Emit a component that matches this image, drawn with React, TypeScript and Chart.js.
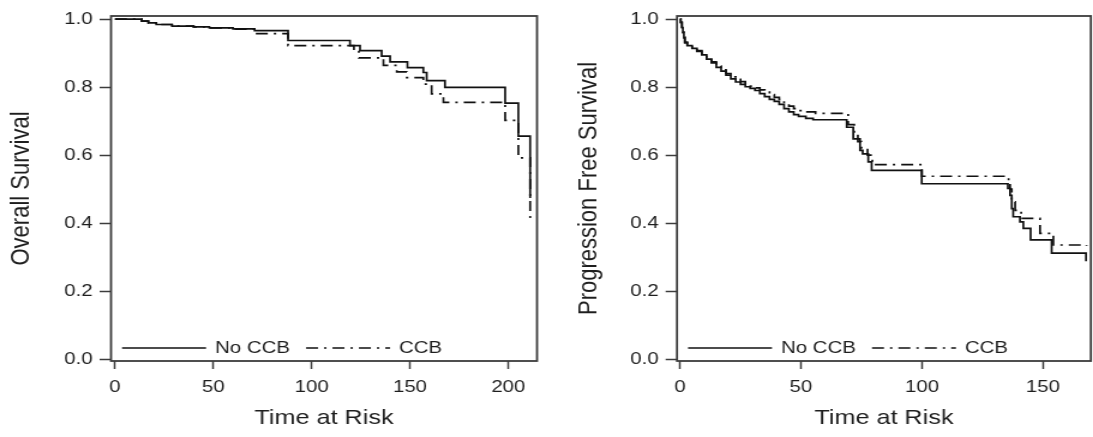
import React, { useEffect, useRef } from "react";
import { Chart, registerables } from "chart.js";

Chart.register(...registerables);

// ---------- data ----------
const seriesLabels = ["No CCB", "CCB"];

const yTickValues = [0, 0.2, 0.4, 0.6, 0.8, 1.0];
const osXTicks = [0, 50, 100, 150, 200];
const pfsXTicks = [0, 50, 100, 150];

// Overall survival (left panel)
const osTimeNoCCB = [0, 13.6, 17, 21, 29, 40, 48, 60, 71, 88, 119.5, 124.6, 135.6, 139.9, 148.7, 156.8, 158.5, 167.8, 198.4, 205.1, 211.1];
const osSurvNoCCB = [1.0, 0.994, 0.989, 0.984, 0.979, 0.977, 0.974, 0.971, 0.966, 0.937, 0.922, 0.907, 0.891, 0.874, 0.857, 0.843, 0.819, 0.799, 0.753, 0.656, 0.474];
const osTimeCCB = [0, 13.6, 17, 21, 29, 40, 48, 60, 71, 88, 121.5, 124, 136.5, 143.3, 148.4, 156.8, 161, 167, 198.4, 205.1, 211.1];
const osSurvCCB = [1.0, 0.994, 0.989, 0.984, 0.979, 0.977, 0.974, 0.970, 0.957, 0.922, 0.906, 0.886, 0.864, 0.845, 0.828, 0.809, 0.78, 0.755, 0.702, 0.592, 0.406];

// Progression free survival (right panel)
const pfsTimeNoCCB = [0, 0.3, 0.8, 1.2, 1.6, 2.0, 3, 5, 7, 9, 11, 13, 15, 17, 19, 21, 23, 25, 27, 29, 31, 33, 35, 37, 39, 41, 43, 45, 47, 49, 52, 55, 68.9, 71.6, 74.4, 75.5, 77.8, 79.2, 99.9, 135.5, 136.4, 137.1, 137.7, 140.5, 141.9, 144.9, 153.6, 167.8];
const pfsSurvNoCCB = [1.0, 0.99, 0.975, 0.96, 0.945, 0.93, 0.922, 0.914, 0.905, 0.895, 0.882, 0.871, 0.858, 0.847, 0.835, 0.824, 0.815, 0.808, 0.801, 0.796, 0.79, 0.781, 0.772, 0.764, 0.758, 0.749, 0.737, 0.727, 0.719, 0.714, 0.708, 0.704, 0.682, 0.648, 0.614, 0.604, 0.58, 0.555, 0.516, 0.502, 0.482, 0.443, 0.419, 0.404, 0.385, 0.351, 0.312, 0.288];
const pfsTimeCCB = [0, 0.3, 0.8, 1.2, 1.6, 2.0, 3, 5, 7, 9, 11, 13, 15, 17, 19, 21, 23, 25, 27, 29, 31, 33, 35, 37, 39, 41, 43, 45, 47, 49, 52, 56, 69.5, 72, 73.5, 75, 77.5, 79.5, 100, 135.8, 136.4, 137.1, 138.5, 141, 148.8, 154.3, 168];
const pfsSurvCCB = [1.0, 0.99, 0.976, 0.962, 0.947, 0.932, 0.925, 0.916, 0.907, 0.897, 0.885, 0.874, 0.862, 0.851, 0.84, 0.83, 0.823, 0.816, 0.81, 0.803, 0.798, 0.792, 0.785, 0.778, 0.77, 0.764, 0.752, 0.744, 0.737, 0.731, 0.727, 0.723, 0.69, 0.665, 0.64, 0.62, 0.6, 0.572, 0.538, 0.52, 0.5, 0.463, 0.438, 0.414, 0.37, 0.336, 0.333];

// ---------- styling ----------
const FONT = "'Liberation Sans', Arial, Helvetica, sans-serif";
const TEXT = "#1e1e1e";
const AXIS = "#3c3c3c";
const STRETCH = 1.2; // the reference is horizontally stretched

const framePlugin = {
  id: "frame",
  afterDatasetsDraw(chart: any) {
    const { ctx, chartArea: a } = chart;
    ctx.save();
    ctx.strokeStyle = AXIS;
    ctx.lineWidth = 1.8;
    ctx.strokeRect(a.left, a.top, a.right - a.left, a.bottom - a.top);
    ctx.restore();
  },
};

const insideLegendPlugin = {
  id: "insideLegend",
  afterDatasetsDraw(chart: any) {
    const { ctx, chartArea: a } = chart;
    const y = a.bottom - 13;
    let x = a.left + 9.2;
    ctx.save();
    ctx.font = `17px ${FONT}`;
    ctx.textBaseline = "middle";
    ctx.textAlign = "left";
    chart.data.datasets.forEach((ds: any) => {
      ctx.beginPath();
      ctx.setLineDash(ds.borderDash || []);
      ctx.strokeStyle = ds.borderColor;
      ctx.lineWidth = ds.borderWidth;
      ctx.moveTo(x, y);
      ctx.lineTo(x + 70, y);
      ctx.stroke();
      x += 70 + 7.5;
      ctx.setLineDash([]);
      ctx.fillStyle = TEXT;
      ctx.fillText(ds.label, x, y);
      x += ctx.measureText(ds.label).width + 13.5;
    });
    ctx.restore();
  },
};

type Panel = {
  canvasWidth: number;
  displayLeft: number;
  chartLeft: number;
  padRight: number;
  xMin: number;
  xMax: number;
  xTicks: number[];
  yTitle: string;
  yTitlePad: number;
  t0: number[];
  s0: number[];
  t1: number[];
  s1: number[];
};

const panels: Panel[] = [
  {
    canvasWidth: 455,
    displayLeft: 0,
    chartLeft: 92.5,
    padRight: 7.5,
    xMin: -2,
    xMax: 214.6,
    xTicks: osXTicks,
    yTitle: "Overall Survival",
    yTitlePad: 4.9,
    t0: osTimeNoCCB,
    s0: osSurvNoCCB,
    t1: osTimeCCB,
    s1: osSurvCCB,
  },
  {
    canvasWidth: 456,
    displayLeft: 546,
    chartLeft: 109.2,
    padRight: 1.8,
    xMin: -1.24,
    xMax: 169.8,
    xTicks: pfsXTicks,
    yTitle: "Progression Free Survival",
    yTitlePad: 22.8,
    t0: pfsTimeNoCCB,
    s0: pfsSurvNoCCB,
    t1: pfsTimeCCB,
    s1: pfsSurvCCB,
  },
];

function makeConfig(p: Panel): any {
  const toPts = (t: number[], s: number[]) => t.map((x, i) => ({ x, y: s[i] }));
  const base = {
    borderColor: "#111111",
    borderWidth: 1.7,
    pointRadius: 0,
    pointHoverRadius: 0,
    stepped: "before",
    fill: false,
    tension: 0,
  };
  return {
    type: "line",
    data: {
      datasets: [
        { ...base, label: seriesLabels[0], data: toPts(p.t0, p.s0), borderDash: [] },
        { ...base, label: seriesLabels[1], data: toPts(p.t1, p.s1), borderDash: [10, 5, 2, 5] },
      ],
    },
    options: {
      animation: false,
      responsive: false,
      maintainAspectRatio: false,
      events: [],
      layout: { padding: { left: 0, right: p.padRight, top: 12, bottom: 0 } },
      plugins: {
        legend: { display: false },
        tooltip: { enabled: false },
      },
      scales: {
        x: {
          type: "linear",
          min: p.xMin,
          max: p.xMax,
          afterFit: (s: any) => {
            s.height = 76;
          },
          afterBuildTicks: (s: any) => {
            s.ticks = p.xTicks.map((v) => ({ value: v }));
          },
          grid: { drawOnChartArea: false, drawTicks: true, tickLength: 8, tickWidth: 1.5, tickColor: AXIS },
          border: { display: false },
          ticks: {
            padding: 7.8,
            autoSkip: false,
            maxRotation: 0,
            color: TEXT,
            font: { family: FONT, size: 17 },
            callback: (v: any) => String(v),
          },
          title: {
            display: true,
            text: "Time at Risk",
            color: TEXT,
            font: { family: FONT, size: 21 },
            padding: { top: 0, bottom: 6.4 },
          },
        },
        y: {
          type: "linear",
          min: -0.005,
          max: 1.009,
          afterFit: (s: any) => {
            s.width = p.chartLeft;
          },
          afterBuildTicks: (s: any) => {
            s.ticks = yTickValues.map((v) => ({ value: v }));
          },
          grid: { drawOnChartArea: false, drawTicks: true, tickLength: 9.5, tickWidth: 1.5, tickColor: AXIS },
          border: { display: false },
          ticks: {
            padding: 5.8,
            autoSkip: false,
            color: TEXT,
            font: { family: FONT, size: 17 },
            callback: (v: any) => Number(v).toFixed(1),
          },
          title: {
            display: true,
            text: p.yTitle,
            color: TEXT,
            font: { family: FONT, size: 22 },
            padding: { top: p.yTitlePad, bottom: 0 },
          },
        },
      },
    },
    plugins: [framePlugin, insideLegendPlugin],
  };
}

function PanelChart({ p }: { p: Panel }) {
  const ref = useRef<HTMLCanvasElement | null>(null);
  useEffect(() => {
    if (!ref.current) return;
    const chart = new Chart(ref.current, makeConfig(p));
    return () => chart.destroy();
  }, [p]);
  return (
    <canvas
      ref={ref}
      width={p.canvasWidth}
      height={437}
      style={{
        position: "absolute",
        left: `${p.displayLeft}px`,
        top: "0px",
        width: `${p.canvasWidth * STRETCH}px`,
        height: "437px",
      }}
    />
  );
}

export default function App() {
  return (
    <div
      style={{
        position: "absolute",
        left: 0,
        top: 0,
        width: "1093px",
        height: "437px",
        overflow: "hidden",
        background: "#ffffff",
      }}
    >
      {panels.map((p, i) => (
        <PanelChart key={i} p={p} />
      ))}
    </div>
  );
}
